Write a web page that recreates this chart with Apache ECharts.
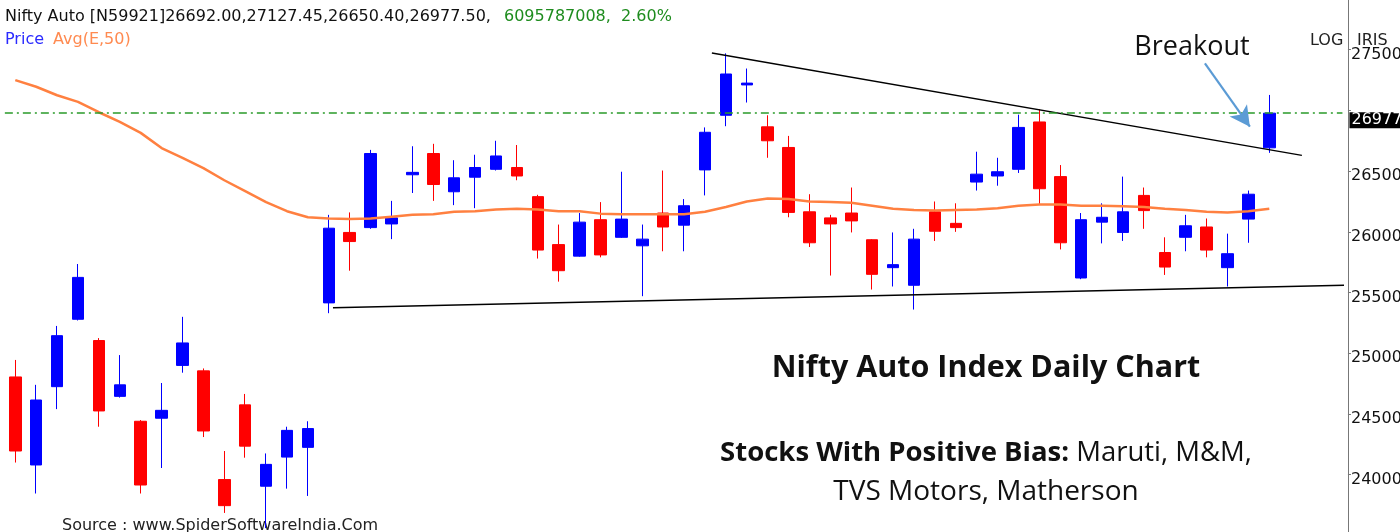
<!DOCTYPE html>
<html>
<head>
<meta charset="utf-8">
<script src="https://cdn.jsdelivr.net/npm/echarts@6/dist/echarts.min.js"></script>
<style>html,body{margin:0;padding:0;background:#fff}#c{width:1400px;height:532px}</style>
</head>
<body>
<div id="c"></div>
<script>
// ---- data ----
const categories = Array.from({length: 61}, (_, i) => 'D' + (i + 1)).concat(['', '', '']);
const opens  = [24805,24080,24725,25280,25105,24645,24440,24465,24900,24855,23960,24575,23905,24145,24225,
                25415,25995,26035,26065,26470,26645,26330,26450,26515,26530,26290,25895,25800,26100,25955,
                25885,26155,26055,26510,26960,27210,26865,26695,26165,26115,26155,25935,25705,25560,26165,
                26070,26410,26460,26515,26905,26455,25620,26080,25995,26300,25830,25955,26040,25705,26105,26692.00];
const closes = [24195,24615,25145,25625,24525,24740,23915,24530,25085,24360,23745,24235,24085,24365,24380,
                26030,25920,26645,26115,26490,26390,26445,26530,26625,26460,25850,25680,26080,25810,26105,
                25940,26040,26215,26820,27300,27225,26750,26160,25910,26065,26090,25650,25730,25940,26005,
                26035,26475,26495,26860,26355,25910,26100,26120,26165,26175,25710,26050,25850,25820,26310,26977.50];
const lows   = [24100,23845,24540,25270,24395,24635,23845,24055,24840,24310,23685,24140,23560,23885,23825,
                25330,25680,26025,25940,26320,26255,26220,26195,26505,26425,25780,25590,25795,25790,25950,
                25470,25840,25840,26300,26870,27065,26610,26120,25875,25640,25995,25525,25550,25360,25925,
                26000,26340,26380,26485,26230,25855,25610,25905,25925,26025,25645,25840,25790,25550,25910,26650.40];
const highs  = [24945,24740,25225,25735,25125,24985,24450,24755,25300,24875,24195,24665,24175,24395,24440,
                26140,26160,26675,26255,26705,26725,26590,26635,26750,26715,26305,26060,26155,26245,26495,
                26060,26505,26270,26860,27470,27345,26960,26790,26310,26140,26365,25940,25995,26025,26250,
                26235,26660,26610,26965,27010,26550,26155,26235,26455,26365,25955,26140,26110,25985,26340,27127.45];
const ema50  = [27250,27195,27125,27070,26985,26905,26815,26690,26610,26525,26425,26335,26245,26170,26120,
                26110,26105,26110,26125,26140,26145,26165,26170,26185,26190,26185,26170,26170,26150,26145,
                26145,26145,26145,26165,26205,26250,26275,26270,26250,26245,26240,26215,26190,26180,26175,
                26180,26185,26195,26215,26225,26225,26215,26215,26210,26205,26190,26180,26165,26160,26170,26190];
const lastClose = 26977.50;
const lastCloseLabel = '26977';
const yTicks = {min: 23500, max: 28000, step: 500};
// trendlines in (candle index, price)
const upperTrend = [[33.33, 27473], [61.56, 26629]];
const lowerTrend = [[15.2, 25375], [64.0, 25562]];
const breakoutArrow = [[56.92, 27388], [59.07, 26866]];

const headerMain = 'Nifty Auto [N59921]26692.00,27127.45,26650.40,26977.50,';
const headerVol = '6095787008,  2.60%';

const ohlc = opens.map((o, i) => [o, closes[i], lows[i], highs[i]]);

const chart = echarts.init(document.getElementById('c'), null, {renderer: 'canvas'});
const F = '"DejaVu Sans", Verdana, sans-serif';
const TF = '"Open Sans", Lato, sans-serif';

chart.setOption({
  animation: false,
  backgroundColor: '#fff',
  grid: {left: 4.85, top: -11, width: 1337.6, height: 546.4, containLabel: false, outerBoundsMode: 'none'},
  xAxis: [
    {type: 'category', data: categories, boundaryGap: true, show: false},
    {type: 'value', min: -0.5, max: 63.5, show: false}
  ],
  yAxis: {
    type: 'value', position: 'right', offset: 5.5,
    min: yTicks.min, max: yTicks.max, interval: yTicks.step,
    axisLine: {show: true, onZero: false, lineStyle: {color: '#777', width: 1}},
    axisTick: {show: true, length: 3, lineStyle: {color: '#777'}},
    splitLine: {show: false},
    axisLabel: {color: '#111', fontSize: 16, fontFamily: F, margin: 3,
                showMaxLabel: false,
                formatter: v => Math.abs(v - lastClose) < 250 ? '' : '{a|' + v + '}',
                rich: {a: {color: '#111', fontSize: 16, fontFamily: F, padding: [10, 0, 0, 0]}}}
  },
  series: [
    {
      type: 'candlestick', data: ohlc, barWidth: 12,
      itemStyle: {color: '#0000ff', color0: '#ff0000', borderColor: '#0000ff', borderColor0: '#ff0000', borderWidth: 1},
      markLine: {
        symbol: 'none', silent: true,
        lineStyle: {color: '#2a9a2a', width: 1.5, type: [8, 4, 2, 4]},
        label: {position: 'end', formatter: lastCloseLabel, color: '#fff', backgroundColor: '#000',
                fontSize: 16, fontFamily: F, padding: [0, 2, 0, 2], distance: 7, offset: [0, 7]},
        data: [{yAxis: lastClose}]
      }
    },
    {
      type: 'line', data: ema50, showSymbol: false, symbol: 'none', smooth: false,
      lineStyle: {color: '#ff8040', width: 2.5}, z: 3
    },
    {
      type: 'line', xAxisIndex: 1, data: upperTrend, showSymbol: false, symbol: 'none', clip: false,
      lineStyle: {color: '#000', width: 1.3}
    },
    {
      type: 'line', xAxisIndex: 1, data: lowerTrend, showSymbol: false, symbol: 'none', clip: false,
      lineStyle: {color: '#000', width: 1.3},
      markLine: {
        silent: true, symbol: ['none', 'arrow'], symbolSize: [16, 20],
        lineStyle: {color: '#5b9bd5', width: 2.2, type: 'solid'},
        label: {show: false},
        data: [[{coord: breakoutArrow[0]}, {coord: breakoutArrow[1]}]]
      }
    }
  ],
  graphic: [
    {type: 'text', left: 5, top: 9, style: {text: headerMain, font: '16px ' + F, fill: '#111'}},
    {type: 'text', left: 504, top: 9, style: {text: headerVol, font: '16px ' + F, fill: '#1e8c1e'}},
    {type: 'text', left: 5, top: 32, style: {text: 'Price', font: '16px ' + F, fill: '#2a2aff'}},
    {type: 'text', left: 53, top: 32, style: {text: 'Avg(E,50)', font: '16px ' + F, fill: '#ff8a50'}},
    {type: 'text', left: 1310, top: 33, style: {text: 'LOG', font: '16px ' + F, fill: '#222'}},
    {type: 'text', left: 1357, top: 33, style: {text: 'IRIS', font: '16px ' + F, fill: '#222'}},
    {type: 'text', x: 1192, y: 47, style: {text: 'Breakout', font: '27px ' + TF, fill: '#111', textAlign: 'center', textVerticalAlign: 'middle'}},
    {type: 'text', x: 986, y: 368, style: {text: 'Nifty Auto Index Daily Chart', font: 'bold 30.5px ' + TF, fill: '#111', textAlign: 'center', textVerticalAlign: 'middle'}},
    {type: 'text', x: 986, y: 453, style: {
      text: '{b|Stocks With Positive Bias:} Maruti, M&M,',
      font: '27.5px ' + TF, fill: '#111', textAlign: 'center', textVerticalAlign: 'middle',
      rich: {b: {font: 'bold 27.5px ' + TF, fill: '#111'}}
    }},
    {type: 'text', x: 986, y: 492, style: {text: 'TVS Motors, Matherson', font: '28px ' + TF, fill: '#111', textAlign: 'center', textVerticalAlign: 'middle'}},
    {type: 'text', left: 62, top: 518, style: {text: 'Source : www.SpiderSoftwareIndia.Com', font: '16px ' + F, fill: '#222'}}
  ]
});
</script>
</body>
</html>
